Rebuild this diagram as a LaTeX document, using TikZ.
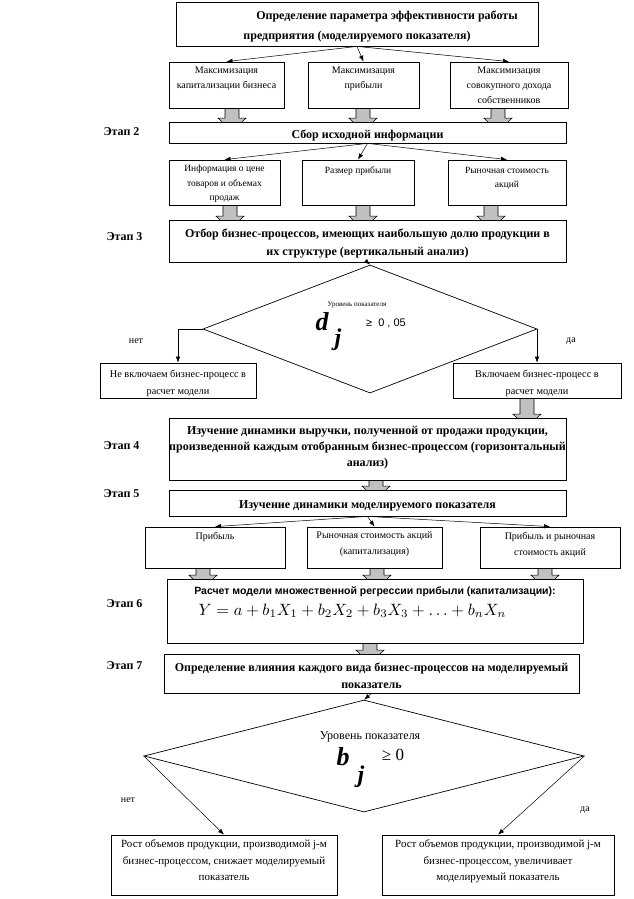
\documentclass[tikz,border=0pt]{standalone}
\usepackage{fontspec}
\setmainfont{Liberation Serif}
\setsansfont{Liberation Sans}
\usepackage{graphicx}
\usetikzlibrary{shapes.geometric, arrows.meta, positioning, calc, backgrounds}
\definecolor{arrgray}{RGB}{192,192,192}
\tikzset{
  box/.style={rectangle, draw, fill=white, inner sep=0pt, line width=0.8pt},
  hdr/.style={font=\fontsize{12}{#1}\selectfont\bfseries},
  txt/.style={font=\fontsize{10}{#1}\selectfont},
  stagelbl/.style={font=\fontsize{12}{14}\selectfont\bfseries, anchor=west},
  lbl/.style={font=\fontsize{10}{12}\selectfont},
  decision/.style={diamond, draw, inner sep=0pt, line width=0.7pt},
  arrow/.style={-{Latex[length=6pt,width=4.5pt]}, line width=0.5pt},
  garrow/.style={fill=arrgray, draw=black, line width=0.6pt}
}
% text inside a box: [pos]{width}{height}{text}
\newcommand{\boxtxt}[4][t]{\parbox[c][#3][#1]{#2}{\centering\vspace{5pt}#4\par}}
% gray block arrow from one box down into the next one
\newcommand{\grayarrow}[3]{%
  \path let \p1=(#1.south), \p2=(#2.north) in
    (#3pt,\y1) coordinate (ga-top) (#3pt,\y2) coordinate (ga-bot);
  \draw[garrow] ($(ga-top)+(-7pt,0)$) -- ($(ga-bot)+(-7pt,3.5pt)$) -- ($(ga-bot)+(-14pt,3.5pt)$)
    -- ($(ga-bot)+(0,-10pt)$) -- ($(ga-bot)+(14pt,3.5pt)$) -- ($(ga-bot)+(7pt,3.5pt)$)
    -- ($(ga-top)+(7pt,0)$) -- cycle;}

\begin{document}
\begin{tikzpicture}[x=1pt, y=-1pt]
  \useasboundingbox (0,0) rectangle (634,899);

  % Stage 1
  \node[box, hdr=20] (title) at (357,24) {\boxtxt[c]{362pt}{44pt}{\hspace*{60pt}Определение параметра эффективности работы\\предприятия (моделируемого показателя)}};
  \node[box, txt=15] (max1) at (226.5,85) {\boxtxt{115pt}{46pt}{Максимизация\\капитализации бизнеса}};
  \node[box, txt=15] (max2) at (363.5,85) {\boxtxt{111pt}{46pt}{Максимизация\\прибыли}};
  \node[box, txt=15] (max3) at (509,85) {\boxtxt{118pt}{46pt}{Максимизация\\совокупного дохода\\собственников}};

  % Stage 2
  \node[stagelbl] (lbl2) at (100,132) {Этап 2};
  \node[box, hdr=14] (stage2) at (367.5,132.5) {\boxtxt[c]{397pt}{21pt}{Сбор исходной информации}};
  \node[box, font=\fontsize{9.5}{14.5}\selectfont] (info) at (224.5,182.5) {\boxtxt{111pt}{45pt}{Информация о цене\\товаров и объемах\\продаж}};
  \node[box, font=\fontsize{9.5}{14.5}\selectfont] (size) at (358,182.5) {\boxtxt{112pt}{45pt}{\vspace{2pt}Размер прибыли}};
  \node[box, font=\fontsize{9.5}{14.5}\selectfont] (market) at (507,182.5) {\boxtxt{118pt}{45pt}{\vspace{2pt}Рыночная стоимость\\акций}};

  % Stage 3
  \node[stagelbl] (lbl3) at (103,237) {Этап 3};
  \node[box, hdr=18] (stage3) at (367.5,241) {\boxtxt[c]{397pt}{42pt}{Отбор бизнес-процессов, имеющих наибольшую долю продукции в\\их структуре (вертикальный анализ)}};
  \node[decision, minimum width=334pt, minimum height=128pt] (dec1) at (370,329) {};
  \node[font=\fontsize{7}{8}\selectfont] (lvl1) at (357,305) {Уровень показателя};
  \node[font=\fontsize{26}{26}\selectfont\bfseries\itshape] (dsym) at (322,322) {d};
  \node[font=\fontsize{24}{24}\selectfont\bfseries\itshape] (jsym1) at (338,340) {j};
  \node[font=\sffamily\fontsize{11}{12}\selectfont] (ge1) at (386,323) {≥\ \ 0 , 05};
  \node[lbl] (no1lbl) at (136,341) {нет};
  \node[lbl] (yes1lbl) at (571,341) {да};
  \node[box, font=\fontsize{10.3}{17}\selectfont] (no1) at (178,380.5) {\boxtxt[c]{156pt}{35pt}{Не включаем бизнес-процесс в\\расчет модели}};
  \node[box, font=\fontsize{10.3}{17}\selectfont] (yes1) at (537,380.5) {\boxtxt[c]{168pt}{35pt}{Включаем бизнес-процесс в\\расчет модели}};

  % Stage 4
  \node[stagelbl] (lbl4) at (100,446) {Этап 4};
  \node[box, hdr=16] (stage4) at (367.5,449) {\boxtxt{397pt}{62pt}{\vspace{3pt}Изучение динамики выручки, полученной от продажи продукции,\\произведенной каждым отобранным бизнес-процессом (горизонтальный\\анализ)}};

  % Stage 5
  \node[stagelbl] (lbl5) at (100,494) {Этап 5};
  \node[box, hdr=14] (stage5) at (367.5,503) {\boxtxt[c]{397pt}{26pt}{Изучение динамики моделируемого показателя}};
  \node[box, txt=16] (profit) at (215,547.5) {\boxtxt{140pt}{41pt}{Прибыль}};
  \node[box, txt=16] (cap) at (374.5,547.5) {\boxtxt{135pt}{41pt}{Рыночная стоимость акций\\(капитализация)}};
  \node[box, txt=16] (pm) at (550,547.5) {\boxtxt{140pt}{41pt}{Прибыль и рыночная\\стоимость акций}};

  % Stage 6
  \node[stagelbl] (lbl6) at (103,604) {Этап 6};
  \node[box] (stage6) at (375,611) {\boxtxt{416pt}{64pt}{\vspace{3pt}{\sffamily\bfseries\fontsize{10.5}{12}\selectfont Расчет модели множественной регрессии прибыли (капитализации):}\\[6pt]
    \hspace*{-45pt}\scalebox{1.64}{$Y = a + b_1X_1 + b_2X_2 + b_3X_3 + \ldots + b_nX_n$}}};

  % Stage 7
  \node[stagelbl] (lbl7) at (103,666) {Этап 7};
  \node[box, hdr=17] (stage7) at (371.5,673.5) {\boxtxt[c]{415pt}{39pt}{Определение влияния каждого вида бизнес-процессов на моделируемый\\показатель}};
  \node[decision, minimum width=440pt, minimum height=112pt] (dec2) at (364,756) {};
  \node[font=\fontsize{12}{14}\selectfont] (lvl2) at (370,737) {Уровень показателя};
  \node[font=\fontsize{26}{26}\selectfont\bfseries\itshape] (bsym) at (343,757) {b};
  \node[font=\fontsize{24}{24}\selectfont\bfseries\itshape] (jsym2) at (361,777) {j};
  \node[font=\fontsize{17}{18}\selectfont] (ge2) at (393,755) {≥ 0};
  \node[lbl] (no2lbl) at (128,800) {нет};
  \node[lbl] (yes2lbl) at (585,810) {да};
  \node[box, font=\fontsize{11}{16.5}\selectfont] (no2) at (224,865) {\boxtxt{226pt}{60pt}{Рост объемов продукции, производимой j-м\\бизнес-процессом, снижает моделируемый\\показатель}};
  \node[box, font=\fontsize{11}{16.5}\selectfont] (yes2) at (498,865) {\boxtxt{232pt}{60pt}{Рост объемов продукции, производимой j-м\\бизнес-процессом, увеличивает\\моделируемый показатель}};

  % Connections
  \foreach \dst in {max1, max2, max3} \draw[arrow] (title.south) -- (\dst.north);
  \foreach \dst in {info, size, market} \draw[arrow] (stage2.south) -- (\dst.north);
  \foreach \dst in {profit, cap, pm} \draw[arrow] (stage5.south) -- (\dst.north);
  \draw[arrow] (stage3.south) -- (dec1.north);
  \draw[arrow] (dec1.west) -| (no1.north);
  \draw[arrow] (dec1.east) -| (yes1.north);
  \draw[arrow] (stage7.south) -- (dec2.north);
  \draw[arrow] (dec2.west) -- (no2.north);
  \draw[arrow] (dec2.east) -- (yes2.north);

  % Block arrows
  \begin{scope}[on background layer]
    \grayarrow{max1}{stage2}{232}
    \grayarrow{max2}{stage2}{363}
    \grayarrow{max3}{stage2}{498}
    \grayarrow{info}{stage3}{230}
    \grayarrow{size}{stage3}{363}
    \grayarrow{market}{stage3}{491}
    \grayarrow{yes1}{stage4}{527}
    \grayarrow{stage4}{stage5}{376}
    \grayarrow{profit}{stage6}{203}
    \grayarrow{cap}{stage6}{377}
    \grayarrow{pm}{stage6}{545}
    \grayarrow{stage6}{stage7}{370}
  \end{scope}
\end{tikzpicture}
\end{document}
